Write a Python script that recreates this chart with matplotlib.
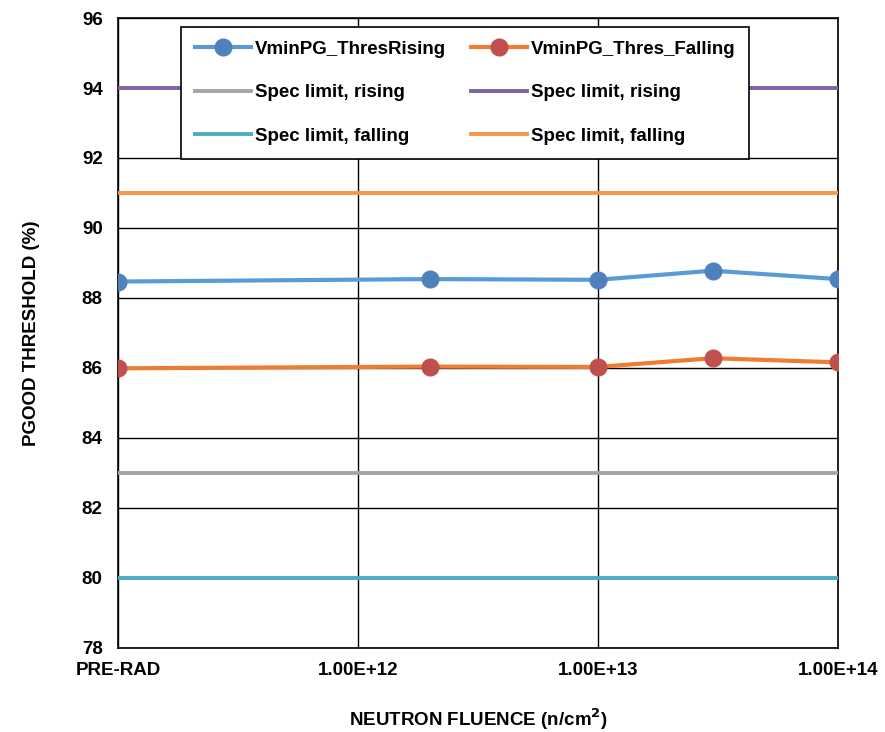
import matplotlib
matplotlib.use("Agg")
import matplotlib.pyplot as plt

plt.rcParams['font.family'] = ['Liberation Sans', 'DejaVu Sans']
plt.rcParams['font.weight'] = 'bold'

# Neutron fluence (PRE-RAD plotted at 1e11)
fluence = [1e11, 2e12, 1e13, 3e13, 1e14]
thres_rising = [88.47, 88.54, 88.52, 88.78, 88.54]
thres_falling = [85.99, 86.04, 86.03, 86.28, 86.16]

spec_x = [1e11, 1e14]
spec_rising_low = 83
spec_rising_high = 94
spec_falling_low = 80
spec_falling_high = 91

xticks = [1e11, 1e12, 1e13, 1e14]
xtick_labels = ['PRE-RAD', '1.00E+12', '1.00E+13', '1.00E+14']
yticks = list(range(78, 97, 2))

fig = plt.figure(figsize=(8.85, 7.32), dpi=100)
ax = fig.add_axes([0.1333, 0.1148, 0.8136, 0.8606])

h1, = ax.plot(fluence, thres_rising, color='#5B9BD5', lw=3, marker='o',
              ms=12, mfc='#4F81BD', mec='#4F81BD', label='VminPG_ThresRising', zorder=5)
h4, = ax.plot(fluence, thres_falling, color='#ED7D31', lw=3, marker='o',
              ms=12, mfc='#C0504D', mec='#C0504D', label='VminPG_Thres_Falling', zorder=5)
h2, = ax.plot(spec_x, [spec_rising_low] * 2, color='#A5A5A5', lw=2.8, label='Spec limit, rising', zorder=4)
h5, = ax.plot(spec_x, [spec_rising_high] * 2, color='#8064A2', lw=2.8, label='Spec limit, rising', zorder=4)
h3, = ax.plot(spec_x, [spec_falling_low] * 2, color='#4BACC6', lw=2.8, label='Spec limit, falling', zorder=4)
h6, = ax.plot(spec_x, [spec_falling_high] * 2, color='#F79646', lw=2.8, label='Spec limit, falling', zorder=4)

ax.set_xscale('log')
ax.set_xlim(1e11, 1e14)
ax.set_ylim(78, 96)
ax.set_xticks(xticks)
ax.set_xticklabels(xtick_labels)
ax.minorticks_off()
ax.set_yticks(yticks)
ax.grid(True, color='black', lw=1)
ax.set_axisbelow(True)
for s in ax.spines.values():
    s.set_color('black')
    s.set_linewidth(1.2)
ax.tick_params(axis='x', length=0, labelsize=13.5, pad=10)
ax.tick_params(axis='y', length=0, labelsize=13.5, pad=11)
for lab in ax.get_xticklabels() + ax.get_yticklabels():
    lab.set_fontweight('bold')

ax.set_xlabel('NEUTRON FLUENCE (n/cm$^\\mathbf{2}$)', fontsize=13.5, fontweight='bold', labelpad=20)
ax.set_ylabel('PGOOD THRESHOLD (%)', fontsize=13.5, fontweight='bold', labelpad=30)

leg = ax.legend(handles=[h1, h2, h3, h4, h5, h6], ncol=2, loc='upper left',
                bbox_to_anchor=(0.0875, 0.986), borderaxespad=0, frameon=True,
                fancybox=False, edgecolor='black', framealpha=1,
                prop={'weight': 'bold', 'size': 13.5},
                handlelength=3.0, handletextpad=0.2, columnspacing=1.3,
                labelspacing=1.4, borderpad=0.75)
leg.get_frame().set_linewidth(1.2)
leg.set_zorder(10)

fig.savefig('out.png', dpi=100)
